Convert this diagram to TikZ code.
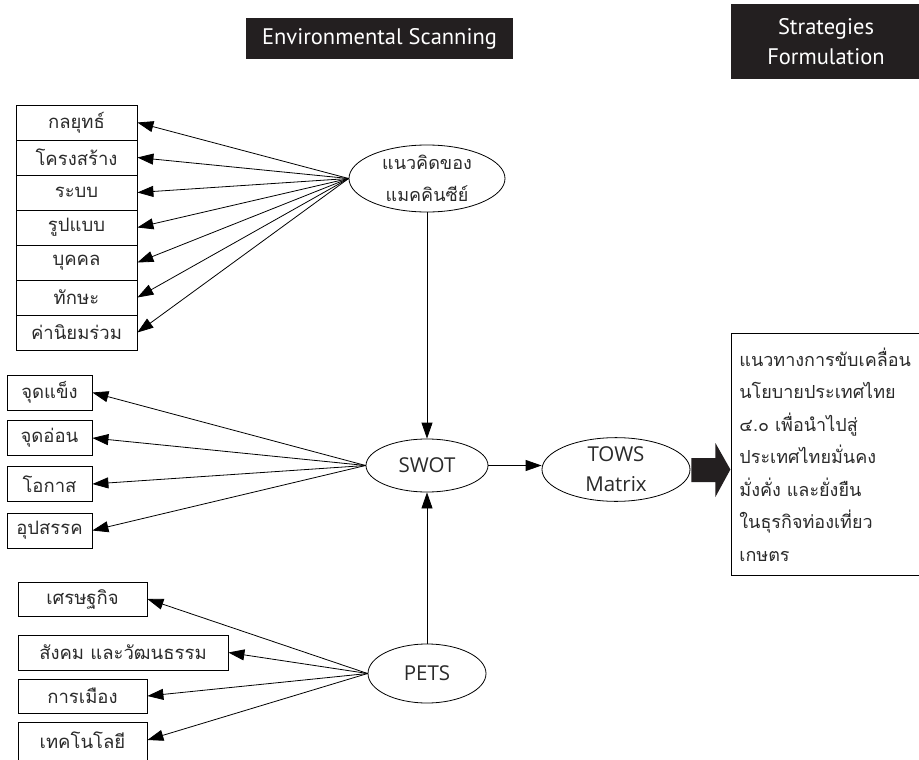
\documentclass[tikz,border=0pt]{standalone}
\usepackage{fontspec}
\setmainfont[Script=Thai]{Loma}
\newfontfamily\latinf{Open Sans}
\newfontfamily\headf{PT Sans}
\usetikzlibrary{arrows.meta,shapes.geometric}
\definecolor{hdr}{HTML}{231F20}
\definecolor{txt}{HTML}{2A2A2A}
\begin{document}
\begin{tikzpicture}[x=1pt,y=-1pt,
  tbox/.style={draw, line width=0.8pt, rectangle, inner sep=0pt, text=txt, font=\fontsize{18.5}{20}\selectfont},
  ell/.style={draw, line width=0.8pt, ellipse, inner sep=0pt, align=center, text=txt},
  arr/.style={line width=0.8pt, -{Triangle[length=16pt,width=11pt]}},
  hbox/.style={fill=hdr, text=white, inner sep=0pt, align=center, font=\headf\fontsize{22.5}{30}\selectfont}
]
\useasboundingbox (0,0) rectangle (919,760);
\clip (0,0) rectangle (919,760);

% headers
\node[hbox, minimum width=267pt, minimum height=41pt] (h1) at (379.5,38.5) {Environmental Scanning};
\node[hbox, minimum width=190pt, minimum height=75pt] (h2) at (826,41.5) {Strategies\\Formulation};

% McKinsey boxes
\foreach \n/\t [count=\i] in {m1/กลยุทธ์,m2/โครงสร้าง,m3/ระบบ,m4/รูปแบบ,m5/บุคคล,m6/ทักษะ,m7/ค่านิยมร่วม}{
  \node[tbox, minimum width=121pt, minimum height=35pt] (\n) at (76.5,{105+35*(\i-0.5)}) {\t};
}
\node[ell, minimum width=156pt, minimum height=67pt, font=\fontsize{18}{32}\selectfont] (mk) at (427,178.5) {แนวคิดของ\\แมคคินซีย์};
\foreach \n in {m1,m2,m3,m4,m5,m6,m7}{ \draw[arr] (mk.west) -- (\n.east); }

% SWOT
\node[tbox, minimum width=85pt, minimum height=35pt] (s1) at (49.5,392.5) {จุดแข็ง};
\node[tbox, minimum width=85pt, minimum height=35pt] (s2) at (49.5,438) {จุดอ่อน};
\node[tbox, minimum width=85pt, minimum height=35pt] (s3) at (49.5,484) {โอกาส};
\node[tbox, minimum width=85pt, minimum height=35pt] (s4) at (49.5,530.5) {อุปสรรค};
\node[ell, minimum width=122pt, minimum height=53pt, font=\latinf\fontsize{20.5}{24}\selectfont] (swot) at (427,465.5) {SWOT};
\foreach \n in {s1,s2,s3,s4}{ \draw[arr] (swot.west) -- (\n.east); }

% TOWS
\node[ell, minimum width=148pt, minimum height=59pt, font=\latinf\fontsize{20.5}{30}\selectfont] (tows) at (616,469.5) {TOWS\\Matrix};
\draw[arr] (swot.east) -- (tows.west |- swot.east);

% big arrow
\begin{scope}[shift={(tows.east)}]
\fill[hdr] (1,-11.5) -- (25,-11.5) -- (25,-26.5) -- (40,0) -- (25,27.5) -- (25,12.5) -- (1,12.5) -- cycle;
\end{scope}

% goal box
\node[draw, line width=0.8pt, anchor=north west, minimum height=242pt, text width=190pt, inner xsep=8pt, inner ysep=0pt, align=left, text=txt, font=\fontsize{18}{32.5}\selectfont] (goal) at (731,333) {แนวทางการขับเคลื่อน\\นโยบายประเทศไทย\\๔.๐ เพื่อนำไปสู่\\ประเทศไทยมั่นคง\\มั่งคั่ง และยั่งยืน\\ในธุรกิจท่องเที่ยว\\เกษตร};

% PETS
\node[tbox, minimum width=129pt, minimum height=34pt] (p1) at (82.5,599) {เศรษฐกิจ};
\node[tbox, minimum width=210pt, minimum height=35pt] (p2) at (123,652.5) {สังคม และวัฒนธรรม};
\node[tbox, minimum width=129pt, minimum height=34pt] (p3) at (82.5,696) {การเมือง};
\node[tbox, minimum width=129pt, minimum height=40pt] (p4) at (82.5,742) {};
\node[text=txt, font=\fontsize{18.5}{20}\selectfont] (p4t) at (82.5,740) {เทคโนโลยี};
\node[ell, minimum width=118pt, minimum height=59pt, font=\latinf\fontsize{20.5}{24}\selectfont] (pets) at (427,673.5) {PETS};
\draw[arr] (pets.west) -- (p1.east);
\draw[arr] (pets.west) -- (p2.east);
\draw[arr] (pets.west) -- (p3.east);
\draw[arr] (pets.west) -- (p4.east |- p4t.east);

% vertical
\draw[arr] (mk.south) -- (swot.north);
\draw[arr] (pets.north) -- (swot.south);
\end{tikzpicture}
\end{document}
